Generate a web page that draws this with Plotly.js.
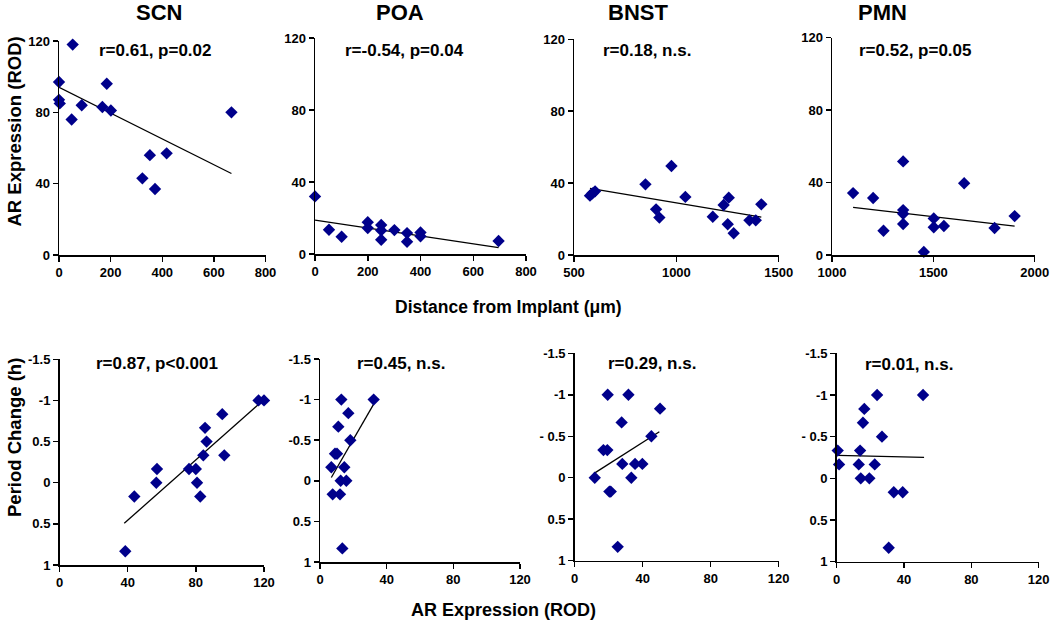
<!DOCTYPE html>
<html>
<head>
<meta charset="utf-8">
<script src="https://cdn.plot.ly/plotly-3.0.1.min.js"></script>
<style>html,body{margin:0;padding:0;background:#fff;}#chart{width:1050px;height:621px;}</style>
</head>
<body>
<div id="chart"></div>
<script>
// ---------- DATA ----------
// Top row: AR expression (ROD) vs distance from implant (µm)
const regions = ["SCN", "POA", "BNST", "PMN"];

const scnDist = [53, 0, 0, 3, 88, 49, 168, 185, 201, 668, 352, 417, 323, 372];
const scnAR   = [118, 97, 87, 85, 84, 76, 83, 96, 81, 80, 56, 57, 43, 37];
const scnDistFitX = [0, 668];
const scnDistFitY = [94, 45.7];

const poaDist = [0, 53, 101, 200, 200, 251, 251, 251, 301, 349, 349, 400, 400, 696];
const poaAR   = [32, 13.5, 9.6, 17.7, 14.4, 16.1, 13.1, 7.9, 13.3, 11.6, 6.8, 12, 9.8, 7.2];
const poaDistFitX = [0, 696];
const poaDistFitY = [18.8, 3.5];

const bnstDist = [578, 590, 603, 849, 976, 901, 917, 1044, 1178, 1231, 1256, 1251, 1280, 1357, 1388, 1415];
const bnstAR   = [33, 34.3, 35.4, 39.3, 49.5, 25.4, 20.8, 32.3, 21.3, 27.8, 31.9, 17.1, 12.1, 19.3, 19.3, 28.2];
const bnstDistFitX = [578, 1415];
const bnstDistFitY = [37.1, 21.1];

const pmnDist = [1104, 1203, 1254, 1351, 1351, 1351, 1351, 1453, 1502, 1502, 1552, 1652, 1802, 1901];
const pmnAR   = [34.2, 31.5, 13.4, 51.7, 24.8, 22.8, 17.1, 1.7, 20.2, 15.3, 16, 39.6, 14.9, 21.5];
const pmnDistFitX = [1104, 1901];
const pmnDistFitY = [26.3, 16];

// Bottom row: period change (h) vs AR expression (ROD)
const scnAR2     = [38.6, 43.9, 56.8, 57.2, 76, 80, 80.7, 82.6, 84.4, 85.4, 86.3, 95.5, 96.7, 116.8, 120];
const scnPeriod  = [0.833, 0.167, 0, -0.167, -0.167, -0.167, 0, 0.167, -0.333, -0.667, -0.5, -0.833, -0.333, -1, -1];
const scnPerFitX = [38, 120];
const scnPerFitY = [0.493, -1.01];

const poaAR2     = [12.8, 32.2, 17, 11, 18.2, 9, 10.2, 6.8, 14.6, 12.4, 15.8, 7.6, 12, 13.4];
const poaPeriod  = [-1, -1, -0.833, -0.667, -0.5, -0.333, -0.333, -0.167, -0.167, 0, 0, 0.167, 0.167, 0.833];
const poaPerFitX = [6.8, 32.2];
const poaPerFitY = [-0.041, -0.945];

const bnstAR2     = [11.8, 16.9, 19.2, 19.4, 31.6, 27.6, 50.2, 45.1, 28, 35.5, 39.8, 33.3, 20.4, 21.2, 25.3];
const bnstPeriod  = [0, -0.333, -0.333, -1, -1, -0.667, -0.833, -0.5, -0.167, -0.167, -0.167, 0, 0.167, 0.167, 0.833];
const bnstPerFitX = [11.4, 49.8];
const bnstPerFitY = [-0.053, -0.555];

const pmnAR2     = [0.6, 1.4, 13.9, 13.1, 14.3, 19.4, 16.4, 15.6, 24, 51.3, 26.9, 22.6, 33.9, 39.2, 30.9];
const pmnPeriod  = [-0.333, -0.167, -0.333, -0.167, 0, 0, -0.833, -0.667, -1, -1, -0.5, -0.167, 0.167, 0.167, 0.833];
const pmnPerFitX = [0.6, 51.9];
const pmnPerFitY = [-0.276, -0.252];

const topStats = ["r=0.61, p=0.02", "r=-0.54, p=0.04", "r=0.18, n.s.", "r=0.52, p=0.05"];
const botStats = ["r=0.87, p<0.001", "r=0.45, n.s.", "r=0.29, n.s.", "r=0.01, n.s."];

const topXRanges = [[0, 800], [0, 800], [500, 1500], [1000, 2000]];
const topXTicks = [[0, 200, 400, 600, 800], [0, 200, 400, 600, 800], [500, 1000, 1500], [1000, 1500, 2000]];
const topYTicks = [0, 40, 80, 120];
const botXTicks = [0, 40, 80, 120];
const botYTicks = [-1.5, -1, -0.5, 0, 0.5, 1];
const botYLabels = [
  ["-1.5", "-1", "0.5", "0", "0.5", "1"],
  ["-1.5", "-1", "-0.5", "0", "0.5", "1"],
  ["-1.5", "-1", "- 0.5", "0", "0.5", "1"],
  ["-1.5", "-1", "- 0.5", "0", "0.5", "1"]
];

const topX = [scnDist, poaDist, bnstDist, pmnDist];
const topY = [scnAR, poaAR, bnstAR, pmnAR];
const topFX = [scnDistFitX, poaDistFitX, bnstDistFitX, pmnDistFitX];
const topFY = [scnDistFitY, poaDistFitY, bnstDistFitY, pmnDistFitY];
const botX = [scnAR2, poaAR2, bnstAR2, pmnAR2];
const botY = [scnPeriod, poaPeriod, bnstPeriod, pmnPeriod];
const botFX = [scnPerFitX, poaPerFitX, bnstPerFitX, pmnPerFitX];
const botFY = [scnPerFitY, poaPerFitY, bnstPerFitY, pmnPerFitY];

// ---------- LAYOUT (pixel geometry) ----------
const W = 1050, H = 621;
const px = v => v / W;
const py = v => 1 - v / H;
// [left, right, bottom, top] in pixels
const topBoxes = [[59, 265.5, 255, 41], [315, 526, 254, 38], [574, 778.7, 255, 39.3], [832, 1034.7, 255, 37.7]];
const botBoxes = [[59.5, 264, 565, 359.3], [320, 520, 562, 359], [574.7, 778.7, 560.7, 353.3], [836.7, 1038.7, 561.7, 353.3]];
const titleX = [159, 400, 638, 882];
const topStatX = [155, 404, 647, 915];
const botStatX = [157, 401, 652, 909];

const FONT = "Liberation Sans, Arial, sans-serif";
const MARK = {symbol: "diamond", size: 9.5, color: "#00008b", line: {width: 0}};

const traces = [];
const layout = {
  width: W, height: H,
  margin: {l: 0, r: 0, t: 0, b: 0},
  paper_bgcolor: "#fff", plot_bgcolor: "rgba(0,0,0,0)",
  showlegend: false,
  font: {family: FONT, color: "#000"},
  annotations: []
};

function axisCommon() {
  return {
    showgrid: false, zeroline: false, showline: true, linecolor: "#000", linewidth: 1.5,
    ticks: "outside", ticklen: 5, tickwidth: 1.5, tickcolor: "#000",
    tickfont: {family: FONT, size: 13, color: "#000", weight: "bold"},
    fixedrange: true
  };
}

for (let i = 0; i < 8; i++) {
  const n = i + 1;
  const xa = "x" + (n === 1 ? "" : n), ya = "y" + (n === 1 ? "" : n);
  const xk = "xaxis" + (n === 1 ? "" : n), yk = "yaxis" + (n === 1 ? "" : n);
  const top = i < 4, k = i % 4;
  const box = top ? topBoxes[k] : botBoxes[k];
  const X = top ? topX[k] : botX[k], Y = top ? topY[k] : botY[k];
  const FX = top ? topFX[k] : botFX[k], FY = top ? topFY[k] : botFY[k];

  traces.push({type: "scatter", mode: "lines", x: FX, y: FY, xaxis: xa, yaxis: ya,
    line: {color: "#000", width: 1.3}, hoverinfo: "skip", cliponaxis: false});
  traces.push({type: "scatter", mode: "markers", x: X, y: Y, xaxis: xa, yaxis: ya,
    marker: MARK, cliponaxis: false});

  const xax = axisCommon(), yax = axisCommon();
  xax.domain = [px(box[0]), px(box[1])];
  yax.domain = [py(box[2]), py(box[3])];
  xax.anchor = ya; yax.anchor = xa;
  if (top) {
    xax.range = topXRanges[k]; xax.tickvals = topXTicks[k];
    yax.range = [0, 120]; yax.tickvals = topYTicks;
  } else {
    xax.range = [0, 120]; xax.tickvals = botXTicks;
    yax.range = [1, -1.5]; yax.tickvals = botYTicks; yax.ticktext = botYLabels[k];
  }
  layout[xk] = xax; layout[yk] = yax;

  // stat label
  layout.annotations.push({
    xref: "paper", yref: "paper", x: px(top ? topStatX[k] : botStatX[k]),
    y: py(top ? 50 : (k === 3 ? 365 : 363)), xanchor: "center", yanchor: "middle",
    text: top ? topStats[k] : botStats[k], showarrow: false,
    font: {family: FONT, size: 17, color: "#000", weight: "bold"}
  });
  if (top) {
    layout.annotations.push({
      xref: "paper", yref: "paper", x: px(titleX[k]), y: py(13), xanchor: "center", yanchor: "middle",
      text: regions[k], showarrow: false,
      font: {family: FONT, size: 22, color: "#000", weight: "bold"}
    });
  }
}

// axis titles
layout.annotations.push({xref: "paper", yref: "paper", x: px(508), y: py(306.5), xanchor: "center", yanchor: "middle",
  text: "Distance from Implant (\u03bcm)", showarrow: false, font: {family: FONT, size: 17.5, color: "#000", weight: "bold"}});
layout.annotations.push({xref: "paper", yref: "paper", x: px(503.5), y: py(610), xanchor: "center", yanchor: "middle",
  text: "AR Expression (ROD)", showarrow: false, font: {family: FONT, size: 18, color: "#000", weight: "bold"}});
layout.annotations.push({xref: "paper", yref: "paper", x: px(14), y: py(131.5), xanchor: "center", yanchor: "middle",
  text: "AR Expression (ROD)", textangle: -90, showarrow: false, font: {family: FONT, size: 18.5, color: "#000", weight: "bold"}});
layout.annotations.push({xref: "paper", yref: "paper", x: px(14), y: py(438), xanchor: "center", yanchor: "middle",
  text: "Period Change (h)", textangle: -90, showarrow: false, font: {family: FONT, size: 18.5, color: "#000", weight: "bold"}});

Plotly.newPlot("chart", traces, layout, {displayModeBar: false, staticPlot: true});
</script>
</body>
</html>
